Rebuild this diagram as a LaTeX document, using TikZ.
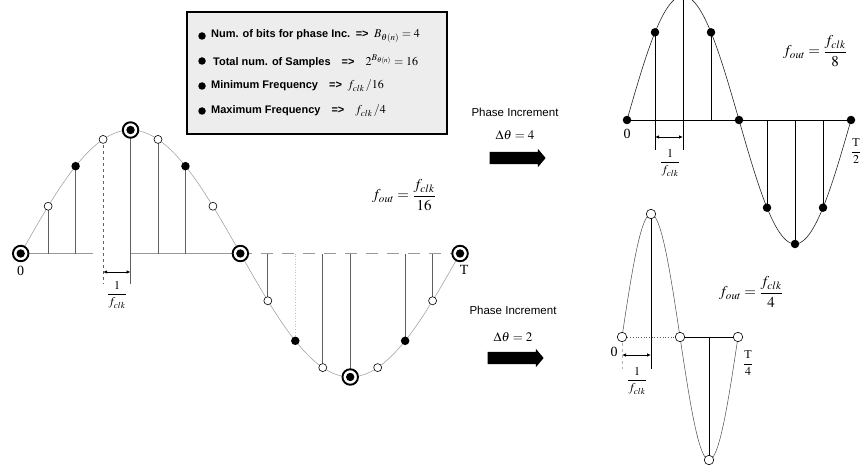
\documentclass[tikz,border=0pt]{standalone}
\usepackage{mathptmx}
\usepackage{amsmath}
\usepackage{fontspec}
\setmainfont{Liberation Serif}
\setsansfont{Liberation Sans}
\usetikzlibrary{arrows.meta,positioning,shapes.arrows}

\begin{document}
\begin{tikzpicture}[
  x=1pt, y=-1pt,
  every node/.style = {inner sep=1pt},
  wave/.style = {gray!80, line width=0.5pt},
  rwave/.style = {black!85, line width=0.6pt},
  stem/.style = {gray!75!black, line width=0.7pt},
  rstem/.style = {black, line width=0.8pt},
  axisln/.style = {gray!80, line width=0.7pt},
  dim/.style = {{Latex[length=4pt,width=3.5pt]}-{Latex[length=4pt,width=3.5pt]}, line width=0.8pt},
  opendot/.style = {circle, draw, fill=white, line width=0.6pt, inner sep=0pt, minimum size=8pt},
  fulldot/.style = {circle, fill=black, inner sep=0pt, minimum size=8.5pt},
  target/.style = {circle, draw, fill=white, line width=1.9pt, inner sep=0pt, minimum size=15.5pt,
    path picture={\fill[black] (path picture bounding box.center) circle (4.2pt);}},
  lbl/.style = {font=\fontsize{14}{14}\selectfont},
  frm/.style = {font=\fontsize{15}{18}\selectfont},
  dt/.style = {font=\fontsize{12}{14}\selectfont},
  phase/.style = {font=\sffamily\fontsize{11.5}{13}\selectfont},
  bigarr/.style = {single arrow, fill=black, inner xsep=0pt, inner ysep=6pt, minimum height=56pt,
    single arrow head extend=3pt, single arrow tip angle=100},
  legendbox/.style = {draw, line width=1.8pt, fill=gray!14, minimum width=260pt, minimum height=122pt},
  bul/.style = {circle, fill=black, inner sep=0pt, minimum size=7.5pt},
  row/.style = {font=\sffamily\bfseries\fontsize{11}{12}\selectfont}
]
\path[use as bounding box, fill=white] (0,0) rectangle (862,468);

% legend
\node[legendbox] (legend) at (317,73) {};
\node[bul] (b1) at (202,36)  {};
\node[bul] (b2) at (202,61)  {};
\node[bul] (b3) at (202,86)  {};
\node[bul] (b4) at (202,111) {};
\node[row, right=4pt of b1] (r1) {Num. of bits for phase Inc.\enspace =>\enspace {\large $B_{\theta(n)} = 4$}};
\node[row, right=6pt of b2] (r2) {Total num. of Samples\quad =>\quad {\large $2^{B_{\theta(n)}} = 16$}};
\node[row, right=4pt of b3] (r3) {Minimum Frequency\quad =>\enspace {\large $f_{clk}\,/16$}};
\node[row, right=4pt of b4] (r4) {Maximum Frequency\quad =>\quad {\large $f_{clk}\,/4$}};

% left wave, 16 samples per period
\foreach \k in {0,...,16}
  \coordinate (l\k) at ({20.7+27.46*\k}, {253.5-123.5*sin(22.5*\k)});
\coordinate (gapL) at (93,253.5);
\coordinate (tkL)  at (0,284);
\coordinate (dimL) at (0,272);
\draw[wave] plot[domain=0:16, samples=129] ({20.7+27.46*\x}, {253.5-123.5*sin(22.5*\x)});
\draw[axisln] (l0) -- (gapL);
\draw[axisln] (l4 |- l0) -- (l8);
\draw[axisln, dash pattern=on 12pt off 9pt] (l8) -- (l16);
\foreach \k in {1,2,5,6,9,11,12,14,15}
  \draw[stem] (l\k) -- (l\k |- l0);
\draw[stem, dashed] (l3) -- (l3 |- tkL);
\draw[stem] (l4) -- (l4 |- tkL);
\draw[stem, gray!50, dotted] (l10 |- l0) -- (l10);
\draw[dim] (l3 |- dimL) -- (l4 |- dimL);
\foreach \k in {1,3,...,15}
  \node[opendot] (L\k) at (l\k) {};
\foreach \k in {2,6,10,14}
  \node[fulldot] (L\k) at (l\k) {};
\foreach \k in {0,4,8,12,16}
  \node[target] (L\k) at (l\k) {};
\node[lbl, below=3pt of L0] (zeroL) {0};
\node[lbl, below=2pt of L16, xshift=4pt] (perL) {T};
\node[dt] (tsL) at (117,295) {$\dfrac{1}{f_{clk}}$};
\node[frm] (foutL) at (404,195) {$f_{out} = \dfrac{f_{clk}}{16}$};

% phase increments
\node[phase] (incA) at (515,112) {Phase Increment};
\node[phase, font=\fontsize{13}{14}\selectfont] (dthA) at (515,135) {$\boldsymbol{\Delta\theta = 4}$};
\node[bigarr] (arrA) at (515,158) {};
\node[phase] (incB) at (513,310) {Phase Increment};
\node[phase, font=\fontsize{13}{14}\selectfont] (dthB) at (513,337) {$\boldsymbol{\Delta\theta = 2}$};
\node[bigarr] (arrB) at (513,358) {};

% upper right wave, 8 samples
\foreach \k in {0,...,8}
  \coordinate (u\k) at ({627+28*\k}, {120-124*sin(45*\k)});
\coordinate (tkU)  at (0,150);
\coordinate (dimU) at (0,137);
\draw[rwave] plot[domain=0:8, samples=97] ({627+28*\x}, {120-124*sin(45*\x)});
\draw[rstem] (u0) -- (u8);
\foreach \k in {3,5,6,7}
  \draw[rstem] (u\k) -- (u\k |- u0);
\draw[rstem] (u1) -- (u1 |- tkU);
\draw[rstem] (u2) -- (u2 |- tkU);
\draw[dim] (u1 |- dimU) -- (u2 |- dimU);
\foreach \k in {0,...,8}
  \node[fulldot] (U\k) at (u\k) {};
\node[lbl, below=4pt of U0] (zeroU) {0};
\node[dt] (tsU) at (670,163) {$\dfrac{1}{f_{clk}}$};
\node[dt] (perU) at (856,151) {$\dfrac{\text{T}}{2}$};
\node[frm] (foutU) at (815,51) {$f_{out} = \dfrac{f_{clk}}{8}$};

% lower right wave, 4 samples
\foreach \k in {0,...,4}
  \coordinate (d\k) at ({622+29*\k}, {337-123*sin(90*\k)});
\coordinate (tkD)  at (0,369);
\coordinate (dimD) at (0,355);
\draw[wave, gray!60!black] plot[domain=0:4, samples=65] ({622+29*\x}, {337-123*sin(90*\x)});
\draw[stem, dotted] (d0) -- (d2);
\draw[rstem] (d2) -- (d4);
\draw[rstem] (d1) -- (d1 |- tkD);
\draw[rstem] (d3) -- (d3 |- d0);
\draw[stem, dashed, gray!60] (d0) -- (d0 |- tkD);
\draw[dim] (d0 |- dimD) -- (d1 |- dimD);
\foreach \k in {0,...,4}
  \node[opendot, minimum size=9.5pt] (D\k) at (d\k) {};
\node[lbl] (zeroD) at (614,352) {0};
\node[dt] (tsD) at (637,381) {$\dfrac{1}{f_{clk}}$};
\node[dt] (perD) at (748,363) {$\dfrac{\text{T}}{4}$};
\node[frm] (foutD) at (751,292) {$f_{out} = \dfrac{f_{clk}}{4}$};
\end{tikzpicture}
\end{document}
